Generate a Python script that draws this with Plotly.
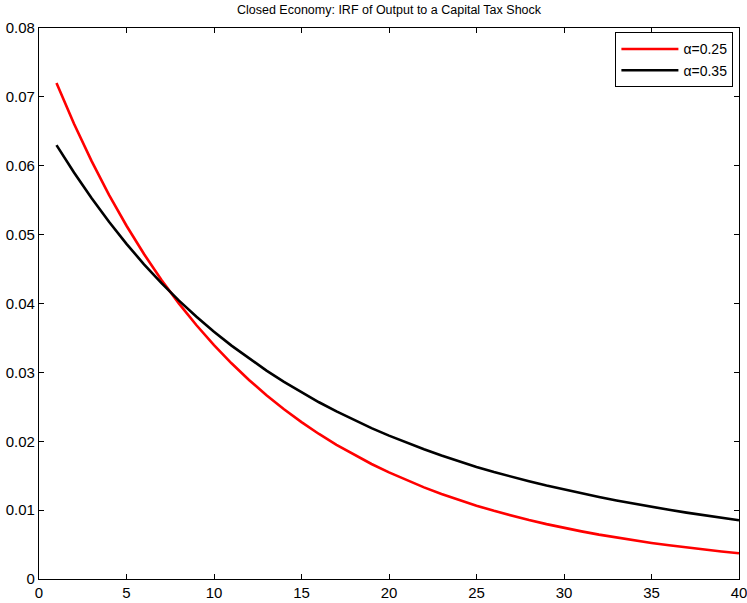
import plotly.graph_objects as go

periods = list(range(1, 41))

# Output response, alpha = 0.25
irf_alpha_025 = [
    0.072000, 0.066096, 0.060707, 0.055786, 0.051291, 0.047182, 0.043425, 0.039987, 0.036841, 0.033960,
    0.031320, 0.028900, 0.026681, 0.024645, 0.022776, 0.021059, 0.019482, 0.018032, 0.016699, 0.015472,
    0.014343, 0.013303, 0.012344, 0.011460, 0.010645, 0.009893, 0.009199, 0.008558, 0.007966, 0.007418,
    0.006912, 0.006443, 0.006009, 0.005607, 0.005235, 0.004890, 0.004570, 0.004273, 0.003998, 0.003742,
]

# Output response, alpha = 0.35
irf_alpha_035 = [
    0.063000, 0.059031, 0.055330, 0.051877, 0.048661, 0.045692, 0.042950, 0.040416, 0.038072, 0.035902,
    0.033884, 0.032004, 0.030250, 0.028614, 0.027086, 0.025659, 0.024325, 0.023077, 0.021909, 0.020816,
    0.019792, 0.018830, 0.017926, 0.017076, 0.016277, 0.015536, 0.014840, 0.014184, 0.013564, 0.012978,
    0.012423, 0.011896, 0.011396, 0.010922, 0.010472, 0.010044, 0.009636, 0.009248, 0.008878, 0.008525,
]

x_ticks = [0, 5, 10, 15, 20, 25, 30, 35, 40]
y_ticks = [0, 0.01, 0.02, 0.03, 0.04, 0.05, 0.06, 0.07, 0.08]
y_tick_labels = ["0", "0.01", "0.02", "0.03", "0.04", "0.05", "0.06", "0.07", "0.08"]

font_family = "Liberation Sans, Arial, sans-serif"

fig = go.Figure()
fig.add_trace(go.Scatter(x=periods, y=irf_alpha_025, mode="lines", name="α=0.25",
                         line=dict(color="#ff0000", width=2.6)))
fig.add_trace(go.Scatter(x=periods, y=irf_alpha_035, mode="lines", name="α=0.35",
                         line=dict(color="#000000", width=2.6)))

axis_style = dict(
    showgrid=False, zeroline=False, showline=True, linecolor="black", linewidth=1.3,
    mirror="ticks", ticks="inside", ticklen=5, tickwidth=1, tickcolor="black",
    tickfont=dict(family=font_family, size=15, color="black"), automargin=False,
    ticklabeloverflow="allow",
)

fig.update_xaxes(range=[0, 40], tickvals=x_ticks, **axis_style)
fig.update_yaxes(range=[0, 0.08], tickvals=y_ticks, ticktext=y_tick_labels, **axis_style)

fig.update_layout(
    width=747, height=603,
    margin=dict(l=39, r=8, t=28, b=24, pad=0),
    paper_bgcolor="white", plot_bgcolor="white",
    title=dict(text="Closed Economy: IRF of Output to a Capital Tax Shock",
               x=389 / 747, xanchor="center", y=1 - 10 / 603, yanchor="middle",
               font=dict(family=font_family, size=12.5, color="black")),
    legend=dict(x=0.992, xanchor="right", y=0.992, yanchor="top",
                bordercolor="black", borderwidth=1, bgcolor="white",
                font=dict(family=font_family, size=14, color="black"),
                tracegroupgap=0, itemwidth=57),
    showlegend=True,
)

fig.write_html("out.html")
